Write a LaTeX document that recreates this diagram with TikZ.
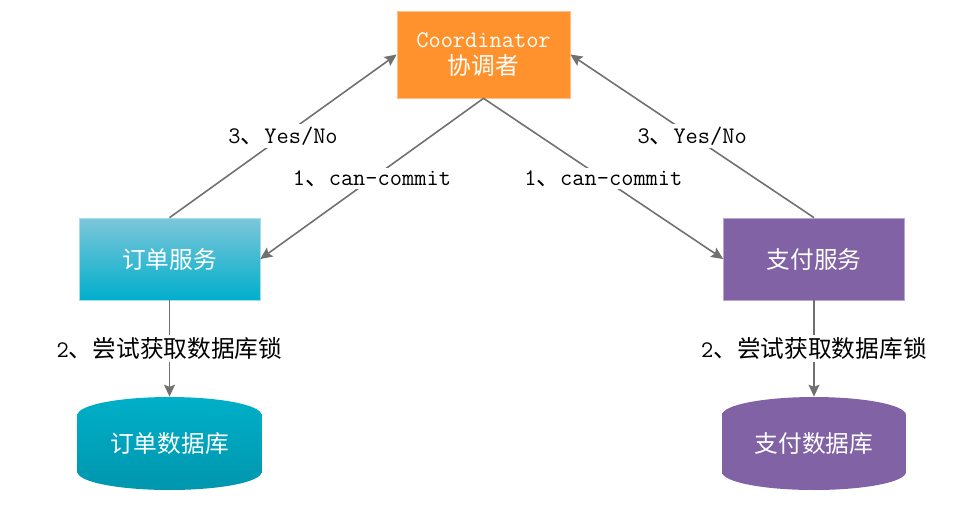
\documentclass[tikz,border=0pt]{standalone}
\usepackage{fontspec}
\newfontfamily\cjk{Noto Sans CJK SC}
\newcommand{\zh}[1]{{\cjk #1}}
\usetikzlibrary{arrows.meta}
\definecolor{coordorange}{HTML}{FF922D}
\definecolor{coordedge}{HTML}{FFC08A}
\definecolor{svctop}{HTML}{7DC6D9}
\definecolor{svcbottom}{HTML}{00AFCB}
\definecolor{svcedge}{HTML}{A6DEEA}
\definecolor{dbtop}{HTML}{00AFC8}
\definecolor{dbbottom}{HTML}{0096AE}
\definecolor{paypurple}{HTML}{8062A5}
\definecolor{payedge}{HTML}{B7A6CF}
\definecolor{linegray}{HTML}{707070}

\begin{document}
\begin{tikzpicture}[x=0.02cm,y=-0.02cm,
    coord node/.style={rectangle,fill=coordorange,draw=coordedge,thin,text=white,
      minimum width=3.46cm,minimum height=1.74cm,align=center,
      font=\fontsize{13.5}{15.5}\selectfont\ttfamily},
    svc node/.style={rectangle,draw=#1,thin,text=white,
      minimum width=3.62cm,minimum height=1.64cm,
      font=\cjk\fontsize{13.5}{15}\selectfont},
    db node/.style 2 args={rectangle,text=white,
      minimum width=3.68cm,minimum height=1.86cm,
      font=\cjk\fontsize{13.5}{15}\selectfont,
      path picture={
        \shade[top color=#1,bottom color=#2]
          ([yshift=-0.36cm]path picture bounding box.north west)
          arc[start angle=180,end angle=0,x radius=1.84cm,y radius=0.36cm]
          -- ([yshift=0.36cm]path picture bounding box.south east)
          arc[start angle=0,end angle=-180,x radius=1.84cm,y radius=0.36cm]
          -- cycle;}},
    link/.style={draw=linegray,line width=0.9pt,
      -{Stealth[length=6.8pt,width=6.2pt,inset=1.2pt]}},
    msg/.style={fill=white,inner sep=1.5pt,text=black,
      font=\fontsize{13.5}{15}\selectfont\ttfamily}]
  \useasboundingbox (0,0) rectangle (972,514);

  \node[coord node] (coord) at (483.5,54.5) {Coordinator\\\zh{协调者}};
  \node[svc node=svcedge,top color=svctop,bottom color=svcbottom] (osvc) at (169.5,259) {订单服务};
  \node[svc node=payedge,fill=paypurple] (psvc) at (814,259) {支付服务};
  \node[db node={dbtop}{dbbottom}] (odb) at (169.5,443.5) {订单数据库};
  \node[db node={paypurple}{paypurple}] (pdb) at (814,443.5) {支付数据库};

  \path
    (osvc.north) edge[link] node[msg] {3\zh{、}Yes/No} (coord.west)
    (coord.south) edge[link] node[msg] {1\zh{、}can-commit} (osvc.east)
                  edge[link] node[msg] {1\zh{、}can-commit} (psvc.west)
    (psvc.north) edge[link] node[msg] {3\zh{、}Yes/No} (coord.east)
    (osvc.south) edge[link] node[msg] {2\zh{、尝试获取数据库锁}} (odb.north)
    (psvc.south) edge[link] node[msg] {2\zh{、尝试获取数据库锁}} (pdb.north);
\end{tikzpicture}
\end{document}
